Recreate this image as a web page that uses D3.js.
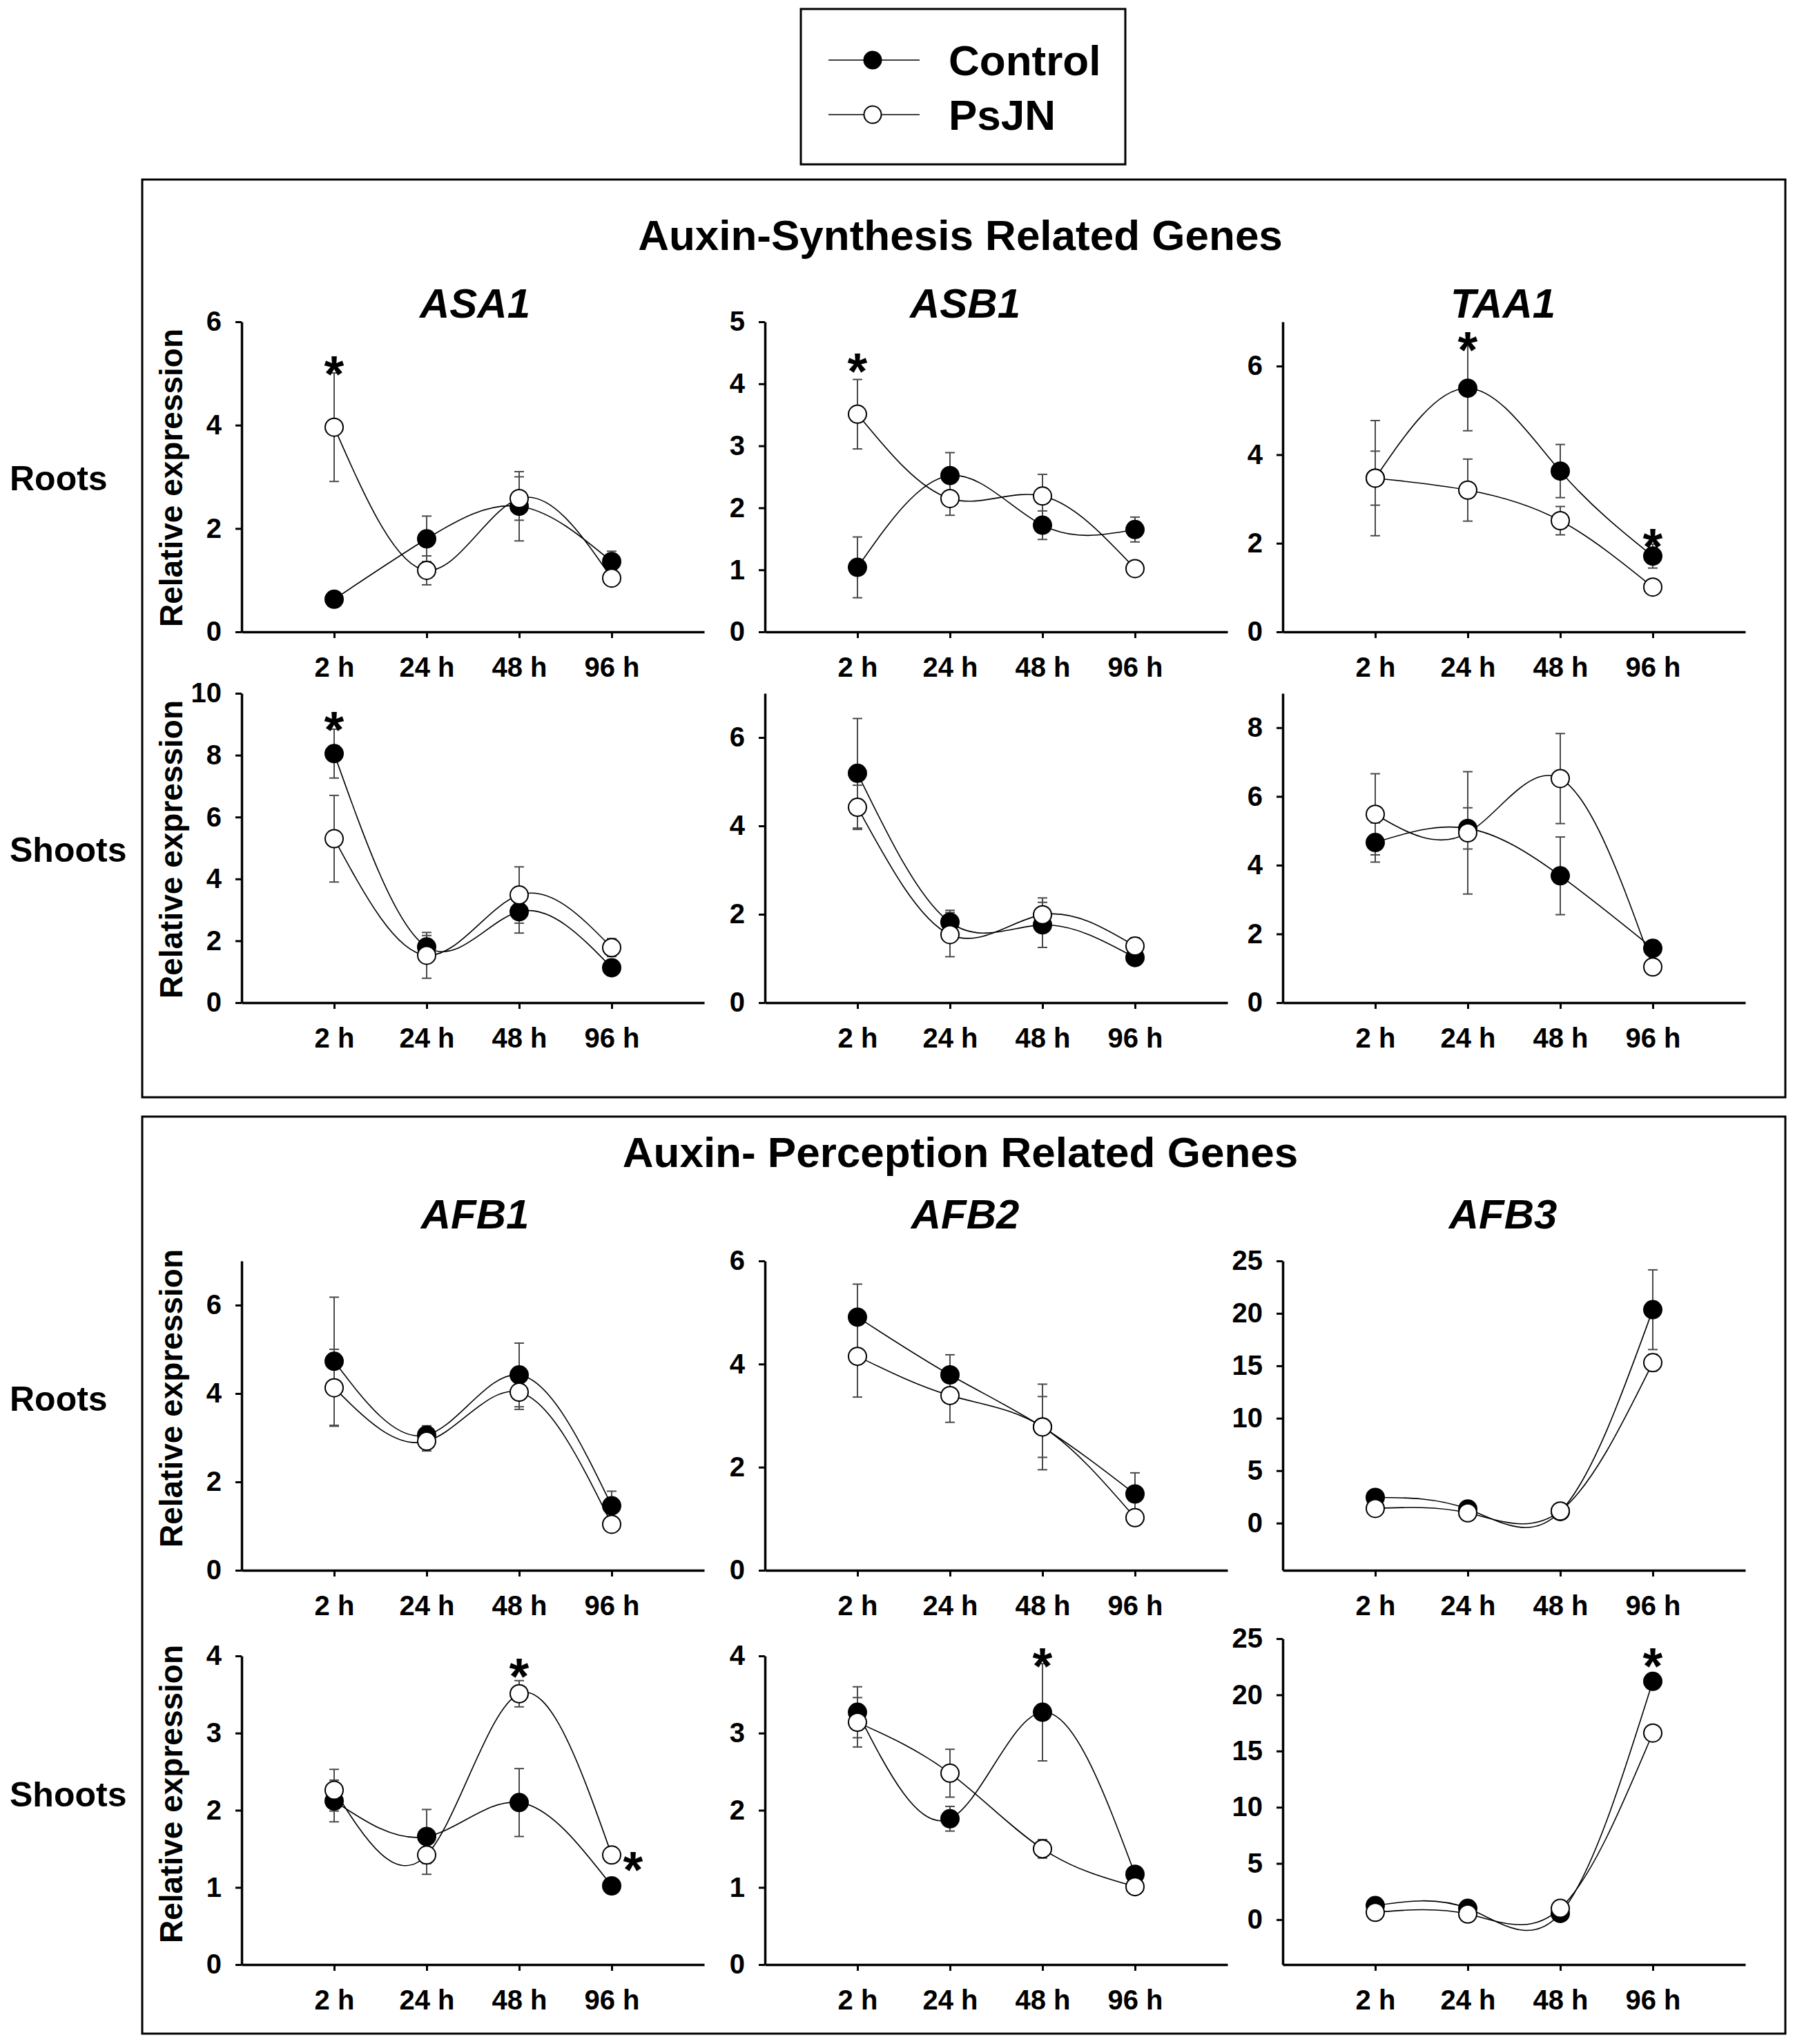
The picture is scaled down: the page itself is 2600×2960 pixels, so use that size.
<!DOCTYPE html>
<html>
<head>
<meta charset="utf-8">
<script src="https://cdn.jsdelivr.net/npm/d3@7"></script>
<style>
  body { margin: 0; background: #fff; }
  svg { display: block; }
  text { font-family: "Liberation Sans", Arial, sans-serif; font-weight: bold; }
</style>
</head>
<body>
<svg id="chart" width="2600" height="2960"></svg>
<script>
// ---- data ----
const timeLabels = ["2 h", "24 h", "48 h", "96 h"];
const seriesNames = ["Control", "PsJN"];
const sectionTitles = ["Auxin-Synthesis Related Genes", "Auxin- Perception Related Genes"];
const geneNames = ["ASA1", "ASB1", "TAA1", "AFB1", "AFB2", "AFB3"];
const tissueNames = ["Roots", "Shoots", "Roots", "Shoots"];

// panel order: row by row, three panels per row
const yDomains = [
    [0, 6], [0, 5], [0, 7],
    [0, 10], [0, 7], [0, 9],
    [0, 7], [0, 6], [-4.5, 25],
    [0, 4], [0, 4], [-4, 25]
];
const yTicks = [
    [0, 2, 4, 6], [0, 1, 2, 3, 4, 5], [0, 2, 4, 6],
    [0, 2, 4, 6, 8, 10], [0, 2, 4, 6], [0, 2, 4, 6, 8],
    [0, 2, 4, 6], [0, 2, 4, 6], [0, 5, 10, 15, 20, 25],
    [0, 1, 2, 3, 4], [0, 1, 2, 3, 4], [0, 5, 10, 15, 20, 25]
];
const controlMean = [
    [0.63, 1.80, 2.43, 1.36],
    [1.04, 2.52, 1.72, 1.65],
    [3.47, 5.50, 3.63, 1.71],
    [8.05, 1.80, 2.94, 1.13],
    [5.19, 1.82, 1.76, 1.02],
    [4.66, 5.07, 3.69, 1.58],
    [4.73, 3.06, 4.42, 1.46],
    [4.91, 3.79, 2.78, 1.48],
    [2.45, 1.35, 1.10, 20.35],
    [2.12, 1.66, 2.10, 1.02],
    [3.27, 1.89, 3.27, 1.17],
    [1.25, 1.00, 0.55, 21.20]
];
const controlErr = [
    [0.08, 0.44, 0.67, 0.20],
    [0.49, 0.37, 0.23, 0.20],
    [0.61, 0.96, 0.60, 0.27],
    [0.79, 0.37, 0.69, 0.26],
    [1.24, 0.27, 0.51, 0.06],
    [0.57, 0.60, 1.13, 0.10],
    [1.45, 0.21, 0.72, 0.33],
    [0.64, 0.39, 0.59, 0.41],
    [0.30, 0.30, 0.20, 3.80],
    [0.27, 0.35, 0.44, 0.04],
    [0.33, 0.16, 0.63, 0.06],
    [0.30, 0.30, 0.20, 0.60]
];
const psjnMean = [
    [3.96, 1.19, 2.58, 1.04],
    [3.51, 2.15, 2.19, 1.02],
    [3.47, 3.20, 2.51, 1.01],
    [5.30, 1.53, 3.48, 1.78],
    [4.42, 1.54, 1.99, 1.28],
    [5.48, 4.94, 6.52, 1.04],
    [4.13, 2.92, 4.03, 1.04],
    [4.15, 3.39, 2.78, 1.02],
    [1.40, 0.98, 1.15, 15.30],
    [2.26, 1.42, 3.51, 1.42],
    [3.14, 2.48, 1.50, 1.01],
    [0.65, 0.50, 1.00, 16.60]
];
const psjnErr = [
    [1.05, 0.28, 0.42, 0.05],
    [0.56, 0.27, 0.35, 0.05],
    [1.30, 0.70, 0.32, 0.05],
    [1.40, 0.74, 0.91, 0.29],
    [0.50, 0.50, 0.38, 0.19],
    [1.18, 1.78, 1.31, 0.05],
    [0.87, 0.22, 0.39, 0.05],
    [0.79, 0.52, 0.83, 0.05],
    [0.20, 0.20, 0.20, 0.80],
    [0.27, 0.25, 0.17, 0.05],
    [0.32, 0.31, 0.12, 0.05],
    [0.20, 0.20, 0.20, 0.40]
];
// significance marks: panel, time index, value where the star sits
const stars = [
    { panel: 0, time: 0, value: 5.21 },
    { panel: 1, time: 0, value: 4.39 },
    { panel: 2, time: 1, value: 6.62 },
    { panel: 2, time: 3, value: 2.18 },
    { panel: 3, time: 0, value: 9.19 },
    { panel: 9, time: 2, value: 3.88 },
    { panel: 9, time: 3, value: 1.38, right: true },
    { panel: 10, time: 2, value: 4.02 },
    { panel: 11, time: 3, value: 23.6 }
];

// ---- layout ----
const colX = [350, 1108, 1858];
const plotW = 670;
const rowBottom = [915, 1452, 2274, 2845];
const rowTop = [466, 1004, 1826, 2398];
const geneX = [688, 1398, 2177];
const geneY = [438, 1757];
const rowLabelY = [692, 1230, 2025, 2598];

const svg = d3.select('#chart');
svg.append('rect').attr('width', 2600).attr('height', 2960).attr('fill', '#fff');

// section boxes
[[260, 1589], [1617, 2945]].forEach(([y0, y1]) => {
    svg.append('rect')
        .attr('x', 206).attr('y', y0)
        .attr('width', 2380).attr('height', y1 - y0)
        .attr('fill', 'none').attr('stroke', '#000').attr('stroke-width', 3);
});

// section titles
[340, 1668].forEach((cy, i) => {
    svg.append('text')
        .attr('x', 1391).attr('y', cy + 22)
        .attr('text-anchor', 'middle')
        .style('font-size', '62px')
        .text(sectionTitles[i]);
});

// gene titles
geneNames.forEach((g, i) => {
    svg.append('text')
        .attr('x', geneX[i % 3]).attr('y', geneY[Math.floor(i / 3)] + 22)
        .attr('text-anchor', 'middle')
        .style('font-size', '60px')
        .style('font-style', 'italic')
        .text(g);
});

// row labels and y titles
tissueNames.forEach((t, r) => {
    svg.append('text')
        .attr('x', 14).attr('y', rowLabelY[r] + 18)
        .style('font-size', '50px')
        .text(t);
    svg.append('text')
        .attr('transform', `translate(264,${rowLabelY[r]}) rotate(-90)`)
        .attr('text-anchor', 'middle')
        .style('font-size', '46px')
        .text('Relative expression');
});

// legend
svg.append('rect')
    .attr('x', 1160).attr('y', 13).attr('width', 470).attr('height', 225)
    .attr('fill', 'none').attr('stroke', '#000').attr('stroke-width', 3);
[87, 166].forEach((ly, i) => {
    svg.append('line')
        .attr('x1', 1200).attr('x2', 1332).attr('y1', ly).attr('y2', ly)
        .attr('stroke', '#000').attr('stroke-width', 1.5);
    svg.append('circle')
        .attr('cx', 1264).attr('cy', ly).attr('r', 12.5)
        .attr('fill', i === 0 ? '#000' : '#fff')
        .attr('stroke', '#000').attr('stroke-width', 2);
    svg.append('text')
        .attr('x', 1374).attr('y', ly + 22)
        .style('font-size', '62px')
        .text(seriesNames[i]);
});

// panels
yDomains.forEach((dom, p) => {
    const row = Math.floor(p / 3), col = p % 3;
    const top = p === 11 ? 2373 : rowTop[row];
    const x = d3.scaleLinear().domain([0, 5]).range([colX[col], colX[col] + plotW]);
    const y = d3.scaleLinear().domain(dom).range([rowBottom[row], top]);
    const g = svg.append('g');

    const xAxis = g.append('g')
        .attr('transform', `translate(0,${rowBottom[row]})`)
        .call(d3.axisBottom(x).tickValues([1, 2, 3, 4])
            .tickFormat(i => timeLabels[i - 1])
            .tickSize(9).tickPadding(28).tickSizeOuter(0));
    const yAxis = g.append('g')
        .attr('transform', `translate(${colX[col]},0)`)
        .call(d3.axisLeft(y).tickValues(yTicks[p])
            .tickFormat(d => String(d))
            .tickSize(9).tickPadding(20).tickSizeOuter(0));

    [xAxis, yAxis].forEach(a => {
        a.attr('font-family', null).attr('font-size', null);
        a.select('.domain').attr('stroke-width', 3.5);
        a.selectAll('.tick line').attr('stroke-width', 3);
        a.selectAll('text').attr('fill', '#000');
    });
    xAxis.selectAll('text').style('font-size', '40px');
    yAxis.selectAll('text').style('font-size', '40px');

    const series = [
        { mean: controlMean[p], err: controlErr[p], fill: '#000' },
        { mean: psjnMean[p], err: psjnErr[p], fill: '#fff' }
    ];

    // error bars
    series.forEach(s => {
        s.mean.forEach((m, i) => {
            const cx = x(i + 1);
            const lo = y(m - s.err[i]), hi = y(m + s.err[i]);
            g.append('line').attr('x1', cx).attr('x2', cx).attr('y1', lo).attr('y2', hi)
                .attr('stroke', '#4a4a4a').attr('stroke-width', 2);
            [lo, hi].forEach(yy => {
                g.append('line').attr('x1', cx - 7).attr('x2', cx + 7).attr('y1', yy).attr('y2', yy)
                    .attr('stroke', '#4a4a4a').attr('stroke-width', 2);
            });
        });
    });

    // spline curves
    const line = d3.line()
        .x((d, i) => x(i + 1))
        .y(d => y(d))
        .curve(d3.curveNatural);
    series.forEach(s => {
        g.append('path').attr('d', line(s.mean))
            .attr('fill', 'none').attr('stroke', '#000').attr('stroke-width', 1.6);
    });

    // markers
    series.forEach(s => {
        g.selectAll(null).data(s.mean).enter().append('circle')
            .attr('cx', (d, i) => x(i + 1))
            .attr('cy', d => y(d))
            .attr('r', 13)
            .attr('fill', s.fill)
            .attr('stroke', '#000').attr('stroke-width', 2);
    });

    // significance stars
    stars.filter(s => s.panel === p).forEach(s => {
        g.append('text')
            .attr('x', x(s.time + 1) + (s.right ? 31 : 0))
            .attr('y', y(s.value) + 42)
            .attr('text-anchor', 'middle')
            .style('font-size', '74px')
            .text('*');
    });
});
</script>
</body>
</html>
